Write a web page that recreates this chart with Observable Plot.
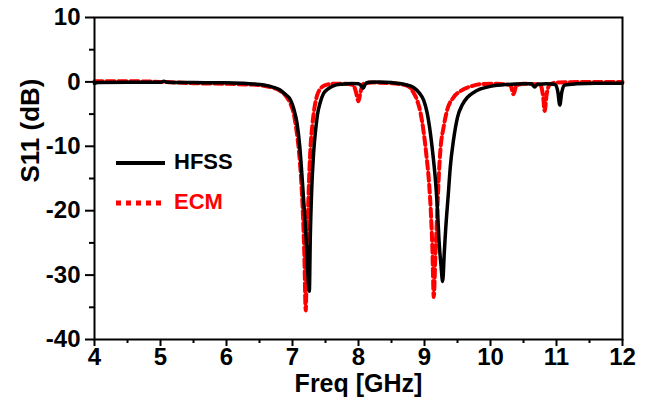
<!DOCTYPE html>
<html><head><meta charset="utf-8">
<script src="https://cdn.jsdelivr.net/npm/d3@7"></script>
<script src="https://cdn.jsdelivr.net/npm/@observablehq/plot@0.6"></script>
<style>
body{margin:0;background:#fff;}
#wrap{position:relative;width:646px;height:399px;}
#legend{position:absolute;left:0;top:0;pointer-events:none;}
</style></head><body>
<div id="wrap"></div>
<script>
// ---- data ----
const hfssFreq = [4.0,4.05,4.5,5.0,5.05,5.1,5.5,6.0,6.3,6.5,6.7,6.8,6.9,6.97,7.02,7.07,7.11,7.15,7.18,7.21,7.24,7.255,7.27,7.29,7.32,7.35,7.38,7.42,7.47,7.55,7.62,7.75,7.9,8.0,8.04,8.07,8.1,8.15,8.3,8.5,8.7,8.84,8.92,8.99,9.04,9.09,9.13,9.17,9.2,9.22,9.25,9.275,9.3,9.32,9.36,9.39,9.44,9.5,9.57,9.65,9.75,9.85,10.0,10.25,10.5,10.62,10.67,10.71,10.85,10.98,11.02,11.05,11.08,11.12,11.3,11.6,12.0];
const hfssS11 = [-0.25,-0.1,-0.05,-0.05,0.1,-0.05,-0.1,-0.15,-0.25,-0.4,-0.8,-1.2,-2.0,-2.8,-4.2,-6.5,-10,-15.5,-20,-25,-31,-32.5,-24,-17,-11,-7.5,-5,-3.2,-1.8,-1.0,-0.6,-0.35,-0.25,-0.3,-0.6,-1.0,-0.4,-0.05,0,-0.1,-0.4,-0.9,-1.7,-2.9,-4.8,-8,-11.5,-15.8,-20.5,-24.6,-28.5,-31,-26.5,-23,-17.5,-13.3,-9,-5.5,-3.6,-2.4,-1.6,-1.1,-0.7,-0.4,-0.3,-0.3,-0.8,-0.35,-0.3,-0.4,-1.5,-3.6,-1.6,-0.5,-0.3,-0.2,-0.2];

const ecmFreq = [4.0,4.5,5.0,5.5,6.0,6.3,6.5,6.7,6.8,6.9,6.97,7.02,7.06,7.1,7.13,7.16,7.18,7.2,7.22,7.245,7.27,7.3,7.33,7.37,7.42,7.5,7.6,7.8,7.92,7.96,8.0,8.03,8.07,8.2,8.5,8.74,8.83,8.89,8.94,8.99,9.03,9.07,9.1,9.12,9.14,9.165,9.19,9.215,9.24,9.29,9.34,9.44,9.55,9.7,9.85,10.1,10.3,10.35,10.39,10.5,10.75,10.8,10.82,10.85,10.9,11.0,11.5,12.0];
const ecmS11 = [0.1,0.1,0.0,-0.2,-0.3,-0.4,-0.5,-0.9,-1.3,-2.2,-3.4,-5,-7.5,-11,-15,-21,-27,-35.5,-26,-17,-10.7,-6.8,-4.2,-2.2,-1.1,-0.5,-0.3,-0.3,-0.5,-1.5,-3.0,-1.6,-0.3,-0.1,-0.2,-0.6,-1.6,-2.9,-4.8,-8,-11.5,-15.8,-21,-26,-33.4,-27,-21,-15,-10.7,-7,-4.5,-2.4,-1.4,-0.7,-0.35,-0.3,-0.5,-1.9,-0.6,-0.3,-0.4,-2.5,-4.5,-2,-0.4,-0.1,0,0];

const seriesNames = ["HFSS", "ECM"];
const seriesColors = ["#000000", "#ff0000"];
const xTicks = [4,5,6,7,8,9,10,11,12];
const xMinorTicks = [4.5,5.5,6.5,7.5,8.5,9.5,10.5,11.5];
const yTicks = [-40,-30,-20,-10,0,10];
const yMinorTicks = [-35,-25,-15,-5,5];
const xTitle = "Freq [GHz]";
const yTitle = "S11 (dB)";

const hfss = hfssFreq.map((f, i) => ({f, s: hfssS11[i]}));
const ecm = ecmFreq.map((f, i) => ({f, s: ecmS11[i]}));

const font = '"Liberation Sans", Arial, sans-serif';
const fmt = d => String(d); // plain hyphen-minus as in the reference

const chart = Plot.plot({
  width: 646,
  height: 399,
  marginLeft: 94,
  marginRight: 24,
  marginTop: 17,
  marginBottom: 60,
  style: {fontFamily: font, fontWeight: "bold", fontSize: "24px", color: "#000", background: "#fff", overflow: "visible"},
  x: {domain: [4, 12]},
  y: {domain: [-40, 10]},
  marks: [
    Plot.line(ecm, {x: "f", y: "s", stroke: seriesColors[1], strokeWidth: 4, strokeDasharray: "8,4", curve: "monotone-x"}),
    Plot.line(hfss, {x: "f", y: "s", stroke: seriesColors[0], strokeWidth: 3.5, curve: "monotone-x"}),
    Plot.frame({stroke: "#000", strokeWidth: 2}),
    Plot.axisY({ticks: yTicks, tickSize: 9, tickPadding: 5, strokeWidth: 2, fontSize: 24, fontWeight: "bold", tickFormat: fmt, label: null}),
    Plot.axisY({ticks: yMinorTicks, tickSize: 5, tickFormat: () => "", strokeWidth: 2, label: null}),
    Plot.axisX({ticks: xTicks, tickSize: 7, tickPadding: 1, strokeWidth: 2, fontSize: 24, fontWeight: "bold", tickFormat: fmt, label: null}),
    Plot.axisX({ticks: xMinorTicks, tickSize: 4, tickFormat: () => "", strokeWidth: 2, label: null}),
    Plot.text([xTitle], {frameAnchor: "bottom", dy: 44, lineAnchor: "middle", fontSize: 25, fontWeight: "bold", fill: "#000", text: d => d}),
    Plot.text([yTitle], {frameAnchor: "left", dx: -64, dy: 4, rotate: -90, lineAnchor: "middle", fontSize: 26, fontWeight: "bold", fill: "#000", text: d => d})
  ]
});

const wrap = document.getElementById("wrap");
wrap.appendChild(chart);

// legend overlay
const leg = d3.select(wrap).append("svg").attr("id", "legend").attr("width", 646).attr("height", 399);
const legRows = [
  {name: seriesNames[0], color: seriesColors[0], y: 163, dash: null, w: 4},
  {name: seriesNames[1], color: seriesColors[1], y: 203, dash: "5,5", w: 5}
];
legRows.forEach(r => {
  leg.append("line").attr("x1", 116).attr("x2", 165).attr("y1", r.y).attr("y2", r.y)
    .attr("stroke", r.color).attr("stroke-width", r.w).attr("stroke-dasharray", r.dash);
  leg.append("text").attr("x", 174).attr("y", r.y - 2).attr("dy", "0.36em")
    .attr("fill", r.color).attr("font-family", font).attr("font-weight", "bold").attr("font-size", 22)
    .text(r.name);
});
</script>
</body></html>
